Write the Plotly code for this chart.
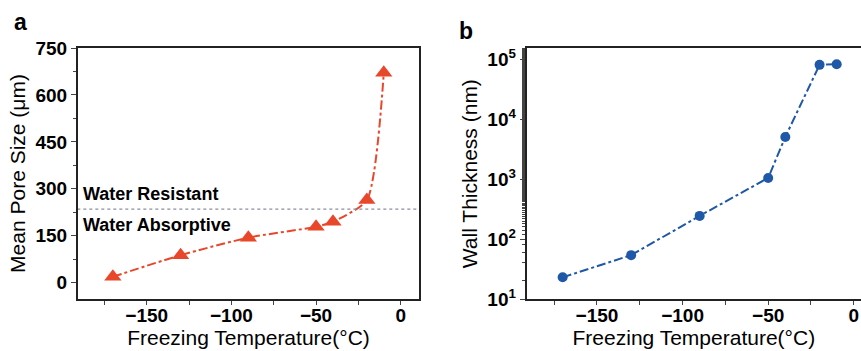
import plotly.graph_objects as go

# ---- data ----
temp_a = [-170, -130, -90, -50, -40, -20, -10]
pore_size = [19, 88, 144, 179, 195, 264, 671]
threshold = 235
temp_b = [-170, -130, -90, -50, -40, -20, -10]
wall_thickness = [23, 54, 244, 1050, 5070, 81000, 83000]
x_ticks = [-150, -100, -50, 0]
y_ticks_a = [0, 150, 300, 450, 600, 750]
y_ticks_b = [10, 100, 1000, 10000, 100000]
y_ticktext_b = ["10<sup>1</sup>", "10<sup>2</sup>", "10<sup>3</sup>", "10<sup>4</sup>", "10<sup>5</sup>"]

RED = "#E8472B"
BLUE = "#1F58A6"
FONT = "Liberation Sans, Arial, sans-serif"

W, H = 861, 351
def fx(px): return px / W
def fy(py): return 1 - py / H

fig = go.Figure()

fig.add_trace(go.Scatter(
    x=temp_a, y=pore_size, mode="lines+markers",
    line=dict(color=RED, width=2, dash="dashdot", shape="spline", smoothing=0.6),
    marker=dict(symbol="triangle-up", size=15, color=RED),
    xaxis="x", yaxis="y", showlegend=False))

fig.add_trace(go.Scatter(
    x=[-191, 11], y=[threshold, threshold], mode="lines",
    line=dict(color="#8a8f9c", width=1.2, dash="dot"),
    xaxis="x", yaxis="y", showlegend=False, hoverinfo="skip"))

fig.add_trace(go.Scatter(
    x=temp_b, y=wall_thickness, mode="lines+markers",
    line=dict(color=BLUE, width=2, dash="dashdot"),
    marker=dict(symbol="circle", size=10, color=BLUE),
    xaxis="x2", yaxis="y2", showlegend=False))

tickfont = dict(family=FONT, size=19, color="black", weight="bold")
titlefont = dict(family=FONT, size=21, color="black")

common_x = dict(
    showline=True, linecolor="#222", linewidth=2, showgrid=False, zeroline=False,
    automargin=False, ticklabelstandoff=-6,
    ticks="outside", ticklen=4, tickwidth=1, tickcolor="#444",
    tickvals=x_ticks, tickfont=tickfont,
    minor=dict(ticks="outside", ticklen=4, tickwidth=1, tickcolor="#444", dtick=25, tick0=0),
    title=dict(text="Freezing Temperature(°C)", font=titlefont, standoff=4),
)

fig.update_layout(
    width=W, height=H, margin=dict(l=0, r=0, t=0, b=0),
    plot_bgcolor="white", paper_bgcolor="white",
    xaxis=dict(domain=[fx(78), fx(419)], range=[-190.6, 10.8], mirror=True,
               anchor="y", **common_x),
    yaxis=dict(domain=[fy(299), fy(48)], range=[-52, 750], anchor="x",
               showline=True, linecolor="#222", linewidth=2, mirror=True,
               showgrid=False, zeroline=False, automargin=False,
               ticks="outside", ticklen=5, tickwidth=1, tickcolor="#444",
               tickvals=y_ticks_a, tickfont=tickfont,
               minor=dict(ticks="outside", ticklen=3, tickwidth=1, tickcolor="#444", dtick=75, tick0=0),
               title=dict(text="Mean Pore Size (μm)", font=titlefont, standoff=4)),
    xaxis2=dict(domain=[fx(526.7), 1.0], range=[-191, 4.2], mirror=True,
                anchor="y2", **common_x),
    yaxis2=dict(domain=[fy(299), fy(48.3)], type="log", range=[1, 5.185], anchor="x2",
                showline=True, linecolor="#222", linewidth=2, mirror=False,
                showgrid=False, zeroline=False, automargin=False,
                ticks="outside", ticklen=5, tickwidth=1, tickcolor="#444",
                tickvals=y_ticks_b, ticktext=y_ticktext_b, tickfont=tickfont,
                minor=dict(ticks="outside", ticklen=3, tickwidth=1, tickcolor="#444"),
                title=dict(text="Wall Thickness (nm)", font=titlefont, standoff=4)),
    annotations=[
        dict(text="<b>a</b>", x=fx(12), y=fy(22), xref="paper", yref="paper",
             xanchor="left", yanchor="middle", showarrow=False,
             font=dict(family=FONT, size=23, color="black")),
        dict(text="<b>b</b>", x=fx(457), y=fy(31), xref="paper", yref="paper",
             xanchor="left", yanchor="middle", showarrow=False,
             font=dict(family=FONT, size=23, color="black")),
        dict(text="<b>Water Resistant</b>", x=fx(81), y=fy(194), xref="paper", yref="paper",
             xanchor="left", yanchor="middle", showarrow=False,
             font=dict(family=FONT, size=18, color="black")),
        dict(text="<b>Water Absorptive</b>", x=fx(81), y=fy(225), xref="paper", yref="paper",
             xanchor="left", yanchor="middle", showarrow=False,
             font=dict(family=FONT, size=18, color="black")),
    ],
)

fig.write_html("out.html", config={"displayModeBar": False},
               post_script="document.body.style.margin='0';document.body.style.overflow='hidden';")
